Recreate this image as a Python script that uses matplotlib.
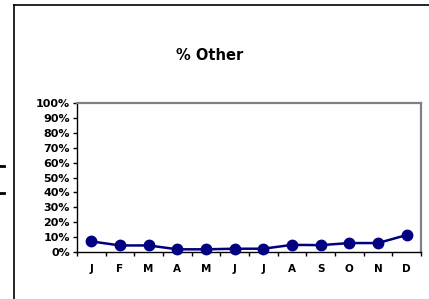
import numpy as np
import matplotlib
matplotlib.use('Agg')
import matplotlib.pyplot as plt
from matplotlib.lines import Line2D

# Monthly share of "Other" (percent)
months = ['J', 'F', 'M', 'A', 'M', 'J', 'J', 'A', 'S', 'O', 'N', 'D']
pct_other = [7.1, 4.4, 4.4, 1.8, 1.8, 2.2, 2.2, 4.8, 4.6, 6.0, 6.0, 11.4]
y_ticks = [0, 10, 20, 30, 40, 50, 60, 70, 80, 90, 100]

plt.rcParams['font.family'] = 'DejaVu Sans'
plt.rcParams['font.weight'] = 'bold'

W, H = 429, 299
fig = plt.figure(figsize=(W / 100, H / 100), dpi=100)
fig.patch.set_facecolor('white')

# plot area in pixel terms
left, right, top, bottom = 77, 421, 103, 252
ax = fig.add_axes([left / W, (H - bottom) / H, (right - left) / W, (bottom - top) / H])

x = np.arange(len(months))
ax.plot(x, pct_other, color='#000080', linewidth=1.8, marker='o',
        markersize=7.5, markerfacecolor='#000080', markeredgecolor='#000080',
        clip_on=False, zorder=3)

ax.set_xlim(-0.5, len(months) - 0.5)
ax.set_ylim(0, 100)

# y axis
ax.set_yticks(y_ticks)
ax.set_yticklabels([f'{v}%' for v in y_ticks], fontsize=8, fontweight='bold')
ax.tick_params(axis='y', direction='out', length=3, width=1, pad=2)

# x axis: ticks on boundaries, labels centred
ax.set_xticks(np.arange(-0.5, len(months), 1.0))
ax.set_xticklabels([])
ax.set_xticks(x, minor=True)
ax.set_xticklabels(months, minor=True, fontsize=7.5, fontweight='bold')
ax.tick_params(axis='x', which='major', direction='out', length=3, width=1)
ax.tick_params(axis='x', which='minor', length=0, pad=9)

for side in ['top', 'right']:
    ax.spines[side].set_color('#808080')
    ax.spines[side].set_linewidth(1.6)
for side in ['left', 'bottom']:
    ax.spines[side].set_color('black')
    ax.spines[side].set_linewidth(1.0)

fig.text(210 / W, 1 - 56 / H, '% Other', ha='center', va='center',
         fontsize=10.5, fontweight='bold')

# outer chart frame (partially visible) and small marks on left edge
fig.add_artist(Line2D([14 / W, 14 / W], [0, 1 - 5 / H], color='black', linewidth=1.2))
fig.add_artist(Line2D([14 / W, 1], [1 - 5 / H, 1 - 5 / H], color='black', linewidth=1.2))
for yy in [166, 193]:
    fig.add_artist(Line2D([0, 3.5 / W], [1 - yy / H, 1 - yy / H], color='black', linewidth=2.0))

fig.savefig('out.png', dpi=100)
